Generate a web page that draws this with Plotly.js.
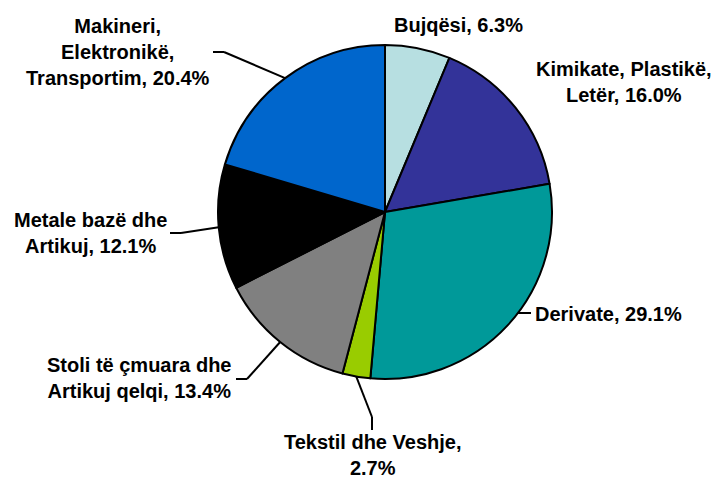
<!DOCTYPE html>
<html>
<head>
<meta charset="utf-8">
<script src="https://cdn.plot.ly/plotly-3.0.1.min.js"></script>
<style>html,body{margin:0;padding:0;background:#fff;}#chart{width:720px;height:480px;}</style>
</head>
<body>
<div id="chart"></div>
<script>
// Data
const categories = ["Bujqësi", "Kimikate, Plastikë, Letër", "Derivate", "Tekstil dhe Veshje", "Stoli të çmuara dhe Artikuj qelqi", "Metale bazë dhe Artikuj", "Makineri, Elektronikë, Transportim"];
const values = [6.3, 16.0, 29.1, 2.7, 13.4, 12.1, 20.4];
const colors = ["#B7DFE1", "#333399", "#009999", "#99CC00", "#808080", "#000000", "#0066CC"];
const labelTexts = [
  "Bujqësi, 6.3%",
  "Kimikate, Plastikë,<br>Letër, 16.0%",
  "Derivate, 29.1%",
  "Tekstil dhe Veshje,<br>2.7%",
  "Stoli të çmuara dhe<br>Artikuj qelqi, 13.4%",
  "Metale bazë dhe<br>Artikuj, 12.1%",
  "Makineri,<br>Elektronikë,<br>Transportim, 20.4%"
];

// Layout geometry (pixels)
const W = 720, H = 480;
const cx = 385, cy = 212, R = 167;
// label placement: [x, y, xanchor]
const labelPos = [
  [458, 25, "center"],
  [624, 82, "center"],
  [533, 314, "left"],
  [372, 455, "center"],
  [139, 378, "center"],
  [90, 233, "center"],
  [118, 52, "center"]
];
// leader lines (points after the pie-edge point)
const leaders = [
  null,
  null,
  {edgeAtY: 313, pts: [[531, 313]]},
  {pts: [[372, 417], [372, 430]]},
  {pts: [[247, 379], [236, 379]]},
  {pts: [[181, 233], [170, 233]]},
  {pts: [[224, 52], [213, 52]]}
];

const px = x => x / W;
const py = y => 1 - y / H;

const total = values.reduce((a, b) => a + b, 0);
let cum = 0;
const mids = values.map(v => { const m = (cum + v / 2) / total; cum += v; return m * 2 * Math.PI; });

const shapes = [];
leaders.forEach((ld, i) => {
  if (!ld) return;
  let start;
  if (ld.edgeAtY !== undefined) {
    const dy = ld.edgeAtY - cy;
    start = [cx + Math.sqrt(R * R - dy * dy), ld.edgeAtY];
  } else {
    start = [cx + R * Math.sin(mids[i]), cy - R * Math.cos(mids[i])];
  }
  const pts = [start].concat(ld.pts);
  for (let k = 0; k < pts.length - 1; k++) {
    shapes.push({type: "line", xref: "paper", yref: "paper",
      x0: px(pts[k][0]), y0: py(pts[k][1]), x1: px(pts[k + 1][0]), y1: py(pts[k + 1][1]),
      line: {color: "#000", width: 2}});
  }
});

const font = {family: "Liberation Sans, Arial, sans-serif", size: 20, color: "#000", weight: "bold"};
const annotations = labelTexts.map((t, i) => ({
  text: t, xref: "paper", yref: "paper", x: px(labelPos[i][0]), y: py(labelPos[i][1]),
  xanchor: labelPos[i][2], yanchor: "middle", align: "center", showarrow: false, font: font
}));

const trace = {
  type: "pie", values: values, labels: categories, sort: false, direction: "clockwise", rotation: 0,
  marker: {colors: colors, line: {color: "#000", width: 2}},
  textinfo: "none", hoverinfo: "label+percent",
  domain: {x: [px(cx - R), px(cx + R)], y: [py(cy + R), py(cy - R)]}
};

Plotly.newPlot("chart", [trace], {
  width: W, height: H, margin: {l: 0, r: 0, t: 0, b: 0}, showlegend: false,
  paper_bgcolor: "#fff", shapes: shapes, annotations: annotations
}, {displayModeBar: false, staticPlot: true});
</script>
</body>
</html>
